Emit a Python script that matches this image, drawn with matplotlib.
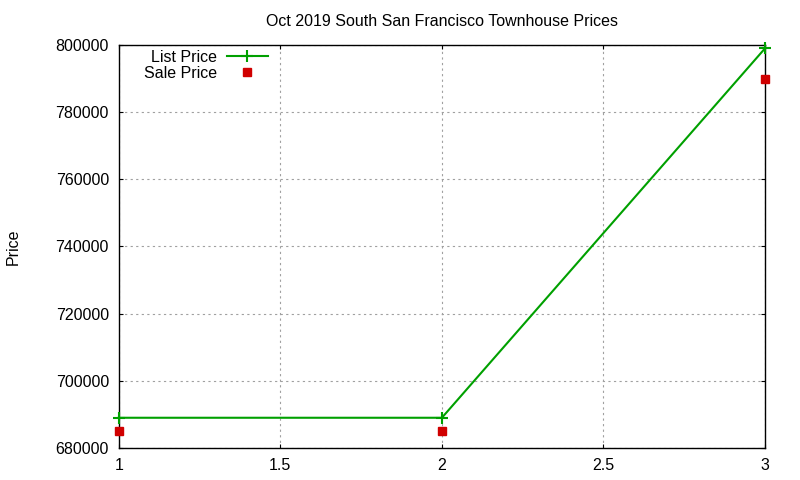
import matplotlib
matplotlib.use("Agg")
import matplotlib.pyplot as plt

x_vals = [1, 2, 3]
list_price = [689000, 689000, 799000]
sale_price = [685000, 685000, 790000]
x_ticks = [1, 1.5, 2, 2.5, 3]
y_ticks = [680000, 700000, 720000, 740000, 760000, 780000, 800000]

plt.rcParams['font.family'] = ['Liberation Sans', 'DejaVu Sans']
fig = plt.figure(figsize=(8, 4.8), dpi=100)
ax = fig.add_axes([0.1484, 0.0667, 0.8079, 0.8396])

ax.plot(x_vals, list_price, color='#00a000', lw=1.5, marker='+', ms=8, mew=1.5,
        label='List Price', clip_on=False, zorder=3)
ax.plot(x_vals, sale_price, ls='none', color='#d00000', marker='s', ms=6,
        label='Sale Price', clip_on=False, zorder=3)

ax.set_xlim(1, 3)
ax.set_ylim(680000, 800000)
ax.set_xticks(x_ticks)
ax.set_xticklabels(['1', '1.5', '2', '2.5', '3'])
ax.set_yticks(y_ticks)
ax.set_yticklabels([str(v) for v in y_ticks])
ax.tick_params(direction='in', length=3, labelsize=11.5, top=True, right=True, pad=7)
ax.grid(True, color='#a0a0a0', ls=(0, (2, 3)), lw=0.8)
for s in ax.spines.values():
    s.set_linewidth(1.0)
ax.set_title('Oct 2019 South San Francisco Townhouse Prices', fontsize=11.5, pad=14)
ax.set_ylabel('Price', fontsize=11.5, labelpad=25)

leg = ax.legend(loc='upper left', markerfirst=False, frameon=False, fontsize=11.5,
                handlelength=2.6, handletextpad=0.6, borderaxespad=0.2, labelspacing=0.05,
                bbox_to_anchor=(0.024, 1.012))
for t in leg.get_texts():
    t.set_ha('right')

fig.savefig('out.png', dpi=100)
